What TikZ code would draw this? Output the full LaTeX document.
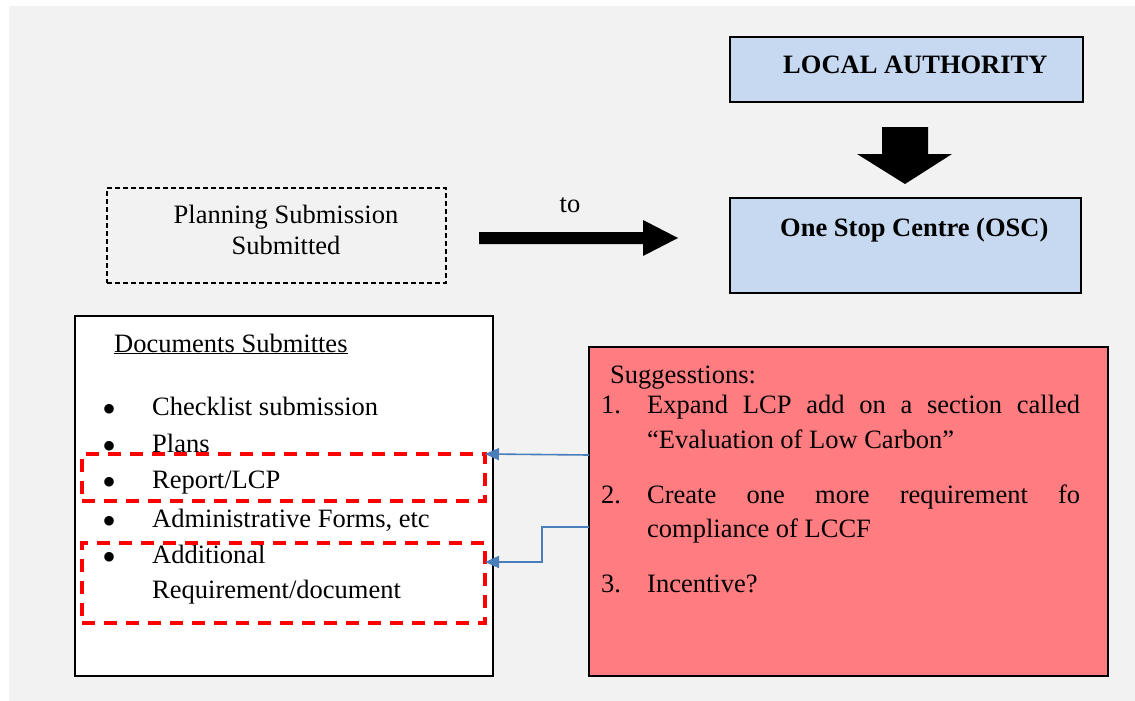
\documentclass[tikz,border=0pt]{standalone}
\usepackage{fontspec}
\setmainfont{Liberation Serif}
\usetikzlibrary{arrows.meta}
\definecolor{bggrey}{HTML}{F2F2F2}
\definecolor{authblue}{HTML}{C6D9F1}
\definecolor{suggred}{HTML}{FF7C80}
\definecolor{linkblue}{HTML}{4A7EBB}
\begin{document}
\begin{tikzpicture}[x=1pt,y=-1pt,
  font=\fontsize{26.5}{37}\selectfont,
  box/.style={draw=black,line width=1.8pt,inner sep=0pt,outer sep=0pt,anchor=north west},
  redbox/.style={draw=red,line width=4.2pt,dash pattern=on 13pt off 9pt,inner sep=0pt,outer sep=0pt,anchor=north west},
  link/.style={draw=linkblue,line width=1.6pt,-{Triangle[length=14pt,width=12pt]}},
  txt/.style={anchor=base west,inner sep=0pt},
  bullet/.style={anchor=base,inner sep=0pt,font=\fontsize{40}{40}\selectfont}]
\useasboundingbox (0,0) rectangle (1135,701);
\fill[bggrey] (9,6) rectangle (1135,701);
% top right boxes
\node[box,fill=authblue,minimum width=353pt,minimum height=65pt] (auth) at (730,37) {};
\node[txt] (authtxt) at (783,74) {\bfseries LOCAL AUTHORITY};
\node[box,fill=authblue,minimum width=351pt,minimum height=95pt] (osc) at (730,198) {};
\node[txt] (osctxt) at (780,236) {\bfseries One Stop Centre (OSC)};
\fill (882,127) -- (928,127) -- (928,154) -- (952,154) -- (905,184) -- (857,154) -- (882,154) -- cycle;
% submission
\node[box,line width=1.3pt,dash pattern=on 5pt off 3pt,minimum width=339pt,minimum height=95pt] (plan) at (107,188) {};
\node[anchor=base,inner sep=0pt] (plantxt1) at (286,223) {Planning Submission};
\node[anchor=base,inner sep=0pt] (plantxt2) at (286,254) {Submitted};
\node[anchor=base,inner sep=0pt] (to) at (570,212) {to};
\fill (479,232) -- (643,232) -- (643,220) -- (678,238) -- (643,256) -- (643,244) -- (479,244) -- cycle;
% documents
\node[box,fill=white,minimum width=418pt,minimum height=360pt] (docs) at (75,316) {};
\node[txt] (doctitle) at (114,352) {\underline{Documents Submittes}};
\foreach \yy/\txt [count=\i] in {415/{Checklist submission}, 452/{Plans}, 488/{Report/LCP},
  527/{Administrative Forms, etc}, 563/{Additional}}
{
  \node[bullet] (bul\i) at (110,\yy+7) {\textbullet};
  \node[txt] (item\i) at (152,\yy) {\txt};
}
\node[txt] (item6) at (152,598) {Requirement/document};
\node[redbox,minimum width=403pt,minimum height=47pt] (rep) at (82,454) {};
\node[redbox,minimum width=403pt,minimum height=80pt] (add) at (82,543) {};
% suggestions
\node[box,fill=suggred,minimum width=519pt,minimum height=329pt] (sugg) at (589,347) {};
\node[txt] (sugtitle) at (610,383) {Suggesstions:};
\foreach \yy/\num in {413/1., 503/2., 592/3.}
  \node[txt] (num\num) at (601,\yy) {\num};
\node[txt] (sug1a) at (647,413) {\makebox[433pt][s]{Expand LCP add on a section called}};
\node[txt] (sug1b) at (647,448) {``Evaluation of Low Carbon''};
\node[txt] (sug2a) at (647,503) {\makebox[433pt][s]{Create one more requirement fo}};
\node[txt] (sug2b) at (647,537) {compliance of LCCF};
\node[txt] (sug3) at (647,592) {Incentive?};
% links
\coordinate (sA) at ([yshift=-108pt]sugg.north west);
\coordinate (sB) at ([yshift=-180pt]sugg.north west);
\draw[link] (sA) -- (rep.north east);
\draw[link] (sB) -- ++(-47,0) |- ([yshift=-19pt]add.north east);
\end{tikzpicture}
\end{document}
